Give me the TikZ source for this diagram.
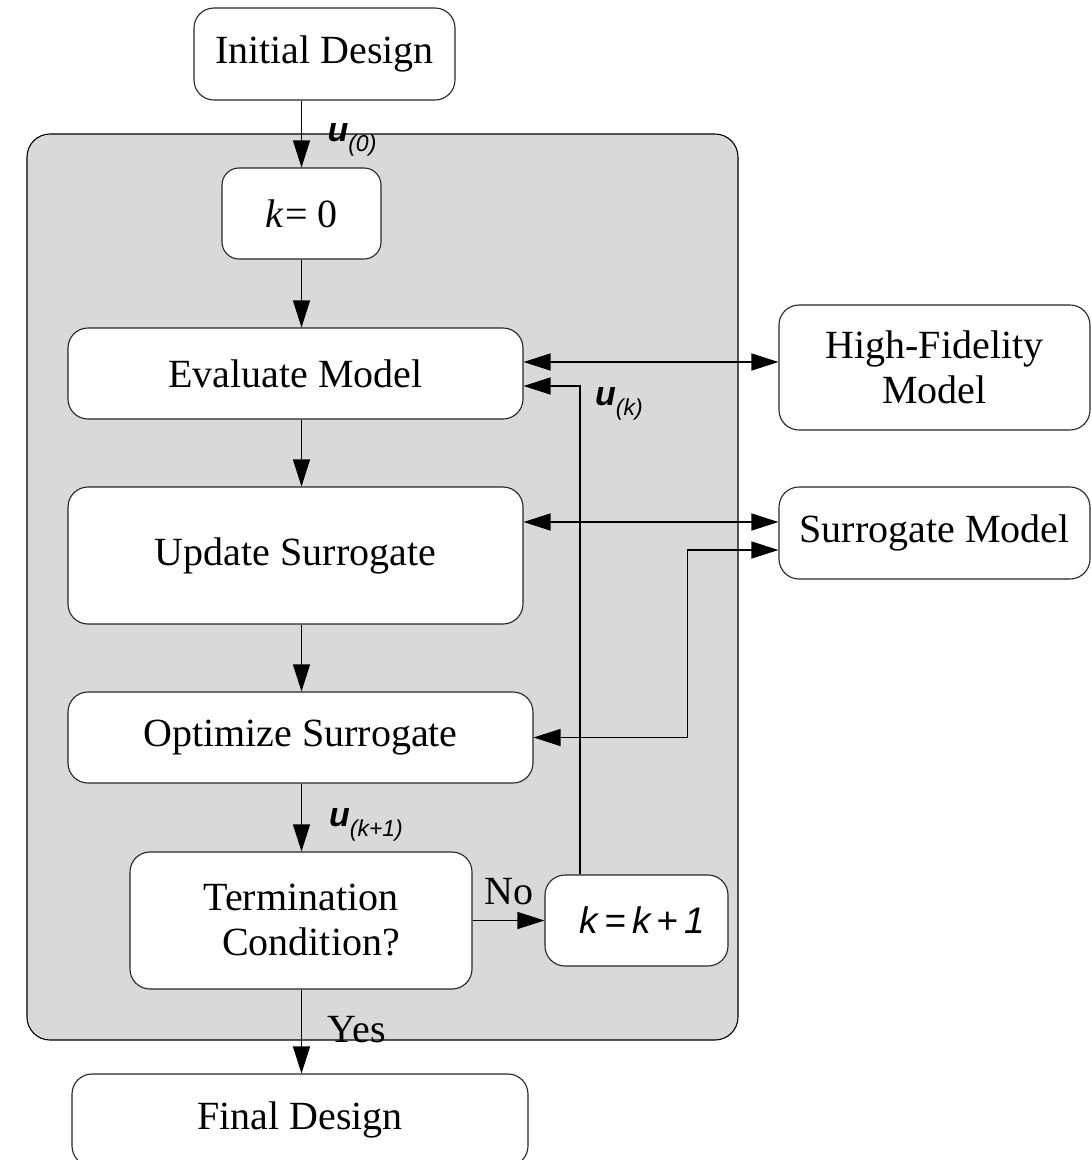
\documentclass[tikz,border=0pt]{standalone}
\usepackage{fontspec}
\setmainfont{Liberation Serif}
\newfontfamily\labfont{Liberation Sans}
\usetikzlibrary{arrows.meta}
\begin{document}
\begin{tikzpicture}[x=1pt,y=-1pt,
  box/.style={draw=black!85,line width=1.1pt,fill=white,rounded corners=20pt,inner sep=0pt,
    align=center,font=\fontsize{40}{45}\selectfont},
  arr/.style={line width=1.2pt,-{Triangle[length=27pt,width=17pt]}},
  darr/.style={line width=1.2pt,{Triangle[length=27pt,width=17pt]}-{Triangle[length=27pt,width=17pt]}},
  lab/.style={inner sep=0pt,font=\labfont\fontsize{34}{36}\selectfont},
  txt/.style={inner sep=0pt,font=\fontsize{40}{45}\selectfont}]
\useasboundingbox (0,0) rectangle (1091,1160);
\fill[white] (0,0) rectangle (1091,1160);
% container
\draw[line width=1.1pt,fill={rgb,255:red,217;green,217;blue,217},rounded corners=23pt] (27,134) rectangle (738,1040);
% nodes
\node[box,minimum width=261pt,minimum height=92pt] (init) at (324.5,54) {Initial Design};
\node[box,minimum width=159pt,minimum height=91pt,rounded corners=17pt] (k0) at (301.5,213.5) {\textit{k}\kern2pt=\kern9pt0};
\node[box,minimum width=455pt,minimum height=91pt] (eval) at (295.5,373.5) {Evaluate Model};
\node[box,minimum width=455pt,minimum height=137pt] (upd) at (295.5,555.5) {Update Surrogate};
\node[box,minimum width=465pt,minimum height=91pt] (opt) at (300.5,737.5) {Optimize Surrogate};
\node[box,minimum width=342pt,minimum height=137pt] (term) at (301,920.5) {Termination\\\ \ Condition?};
\node[box,minimum width=183pt,minimum height=91pt] (k1) at (636.5,920.5) {\labfont\fontsize{37}{40}\selectfont\itshape\kern12pt k\,=\,k\,+\,1};
\node[box,minimum width=311pt,minimum height=125pt] (hf) at (934.5,367.5) {High-Fidelity\\Model};
\node[box,minimum width=311pt,minimum height=92pt] (sm) at (934.5,533) {Surrogate Model};
\node[box,minimum width=456pt,minimum height=92pt] (fin) at (300,1120) {Final Design};
% vertical flow
\draw[arr] (k0.north |- init.south) -- (k0.north);
\draw[arr] (k0.south) -- (k0.south |- eval.north);
\draw[arr] (k0.south |- eval.south) -- (k0.south |- upd.north);
\draw[arr] (k0.south |- upd.south) -- (k0.south |- opt.north);
\draw[arr] (k0.south |- opt.south) -- (k0.south |- term.north);
\draw[arr] (k0.south |- term.south) -- (k0.south |- fin.north);
% side connections
\draw[darr] ([yshift=11.5pt]eval.east) -- ([yshift=11.5pt]eval.east -| hf.west);
\draw[arr] ([xshift=-56.5pt]k1.north) |- ([yshift=-12.5pt]eval.east);
\draw[darr] ([yshift=11pt]sm.west -| upd.east) -- ([yshift=11pt]sm.west);
\draw[darr] (opt.east) -- ++(154,0) |- ([yshift=-17pt]sm.west);
\draw[arr] (term.east) -- (k1.west);
% labels
\node[lab] (u0) at (352,140) {\bfseries\itshape u\raisebox{-0.3em}{\mdseries\fontsize{23}{25}\selectfont(0)}};
\node[lab] (uk) at (619,404) {\bfseries\itshape u\raisebox{-0.3em}{\mdseries\fontsize{23}{25}\selectfont(k)}};
\node[lab] (uk1) at (366,825) {\bfseries\itshape u\raisebox{-0.3em}{\mdseries\fontsize{23}{25}\selectfont(k+1)}};
\node[txt] (no) at (509,892) {No};
\node[txt] (yes) at (357,1030) {Yes};
\end{tikzpicture}
\end{document}
